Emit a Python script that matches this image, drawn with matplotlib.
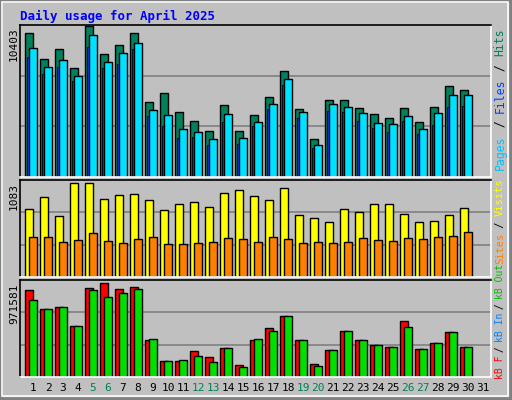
import numpy as np
import matplotlib
matplotlib.use("Agg")
import matplotlib.pyplot as plt
from matplotlib.patches import Rectangle

days = list(range(1, 32))
weekend = [5, 6, 12, 13, 19, 20, 26, 27]

hits = [9908, 8139, 8846, 7502, 10403, 8492, 9129, 9908, 5166, 5803, 4459, 3892, 3185, 4954, 3185,
        4246, 5520, 7289, 4671, 2618, 5308, 5308, 4742, 4317, 4034, 4742, 3822, 4812, 6299, 6015]
files = [8917, 7572, 8068, 6935, 9766, 7926, 8563, 9200, 4600, 4246, 3326, 3114, 2618, 4317, 2689,
         3822, 5025, 6723, 4459, 2194, 5025, 4812, 4388, 3751, 3680, 4175, 3326, 4388, 5662, 5662]
pages = [8280, 7077, 7572, 6582, 8988, 7502, 7785, 8846, 4175, 3539, 2689, 2760, 2194, 3822, 2265,
         3539, 4671, 6369, 4034, 1982, 4529, 4459, 3892, 3397, 3114, 3892, 2972, 3609, 4812, 4883]
visits = [789, 918, 706, 1083, 1083, 895, 942, 953, 883, 777, 847, 859, 812, 965, 1000,
          930, 883, 1024, 718, 683, 636, 789, 753, 836, 847, 730, 636, 647, 718, 800]
sites = [459, 459, 400, 424, 506, 412, 388, 435, 459, 377, 377, 388, 400, 447, 435,
         400, 459, 435, 388, 400, 388, 400, 447, 424, 412, 447, 435, 459, 471, 518]
kb_f = [897660, 707570, 728690, 528040, 918780, 971581, 908220, 929340, 380190, 168970,
        168970, 264020, 211210, 295700, 126730, 380190, 506910, 633640, 380190, 137290,
        274580, 475230, 380190, 327380, 306260, 580840, 285140, 348500, 464670, 306260]
kb_in = [792050, 707570, 728690, 528040, 897660, 823730, 865980, 908220, 390740, 168970,
         179530, 221770, 158410, 295700, 105610, 390740, 475230, 633640, 380190, 116170,
         274580, 475230, 380190, 327380, 306260, 517480, 285140, 348500, 464670, 306260]
kb_out = [6000] * 30

W, H = 512, 400
BG = "#C0C0C0"
fig = plt.figure(figsize=(W / 100, H / 100), dpi=100, facecolor=BG)
mono = "DejaVu Sans Mono"

def px(x, y):
    return x / W, 1 - y / H

# outer bevel
fig.patches.append(Rectangle((0, 0), 1, 1, transform=fig.transFigure, fill=False,
                             ec="#808080", lw=4))
fig.patches.append(Rectangle(px(2, 396), 506 / W, 394 / H, transform=fig.transFigure,
                             fill=False, ec="white", lw=1.2))

def panel(y0, y1):
    ax = fig.add_axes([20 / W, 1 - y1 / H, 471 / W, (y1 - y0) / H])
    ax.set_facecolor(BG)
    ax.set_xlim(0, 471)
    ax.set_xticks([])
    ax.set_yticks([])
    for s in ["top", "left"]:
        ax.spines[s].set_color("black")
    for s in ["bottom", "right"]:
        ax.spines[s].set_color("white")
    for s in ax.spines.values():
        s.set_linewidth(1.2)
    return ax, y1 - y0 - 4

def grid(ax, top):
    for f in (1 / 3, 2 / 3):
        ax.axhline(top * f, color="#808080", lw=1.2, zorder=0)

kw = dict(align="edge", edgecolor="black", linewidth=1)
x = np.arange(30) * 15

ax1, h1 = panel(25, 177)
top1 = max(hits) * h1 / 147
ax1.set_ylim(0, top1)
grid(ax1, top1)
ax1.bar(x + 5, hits, 8, color="#00805C", **kw)
ax1.bar(x + 7, pages, 3, color="#0040FF", align="edge", lw=0.6, edgecolor="black")
ax1.bar(x + 9, files, 8, color="#00E0FF", **kw)

ax2, h2 = panel(180, 277)
top2 = max(visits) * 95 / 92
ax2.set_ylim(0, top2)
grid(ax2, top2)
ax2.bar(x + 5, visits, 8, color="#FFFF00", **kw)
ax2.bar(x + 9, sites, 8, color="#FF8000", **kw)

ax3, h3 = panel(280, 377)
top3 = max(kb_f) * 95 / 92
ax3.set_ylim(0, top3)
grid(ax3, top3)
ax3.bar(x + 5, kb_f, 8, color="#FF0000", **kw)
ax3.bar(x + 7, kb_out, 3, color="#0040FF", align="edge", lw=0)
ax3.bar(x + 9, kb_in, 8, color="#00E000", **kw)

# title
fig.text(*px(20, 16), "Daily usage for April 2025", family=mono, weight="bold",
         color="#0000FF", fontsize=9, va="center")

# day labels
for i, d in enumerate(days):
    c = "#00805C" if d in weekend else "black"
    fig.text(*px(33 + 15 * i, 388), str(d), family=mono, fontsize=8, ha="center",
             va="center", color=c)

# left max labels
for lab, y in [(str(max(hits)), 27), (str(max(visits)), 183), (str(max(kb_f)), 283)]:
    fig.text(*px(14, y), lab, family=mono, fontsize=8, rotation=90, ha="center", va="top")

# right legends, bottom-to-top
def legend(parts, ybottom, fs, cw):
    y = ybottom
    for txt, c in parts:
        if txt.strip():
            fig.text(*px(500, y), txt, family=mono, fontsize=fs, rotation=90, ha="center",
                     va="bottom", color=c)
        y -= cw * len(txt)

legend([("Pages", "#00C0FF"), (" / ", "black"), ("Files", "#0040FF"), (" / ", "black"),
        ("Hits", "#00805C")], 170, 8.3, 7.1)
legend([("Sites", "#FF8000"), (" / ", "black"), ("Visits", "#FFFF00")], 264, 7.5, 6.0)
legend([("kB F", "#FF0000"), (" / ", "black"), ("kB In", "#0080FF"), (" / ", "black"),
        ("kB Out", "#00C000")], 379, 7.0, 5.35)

fig.savefig("out.png", dpi=100, facecolor=BG)
